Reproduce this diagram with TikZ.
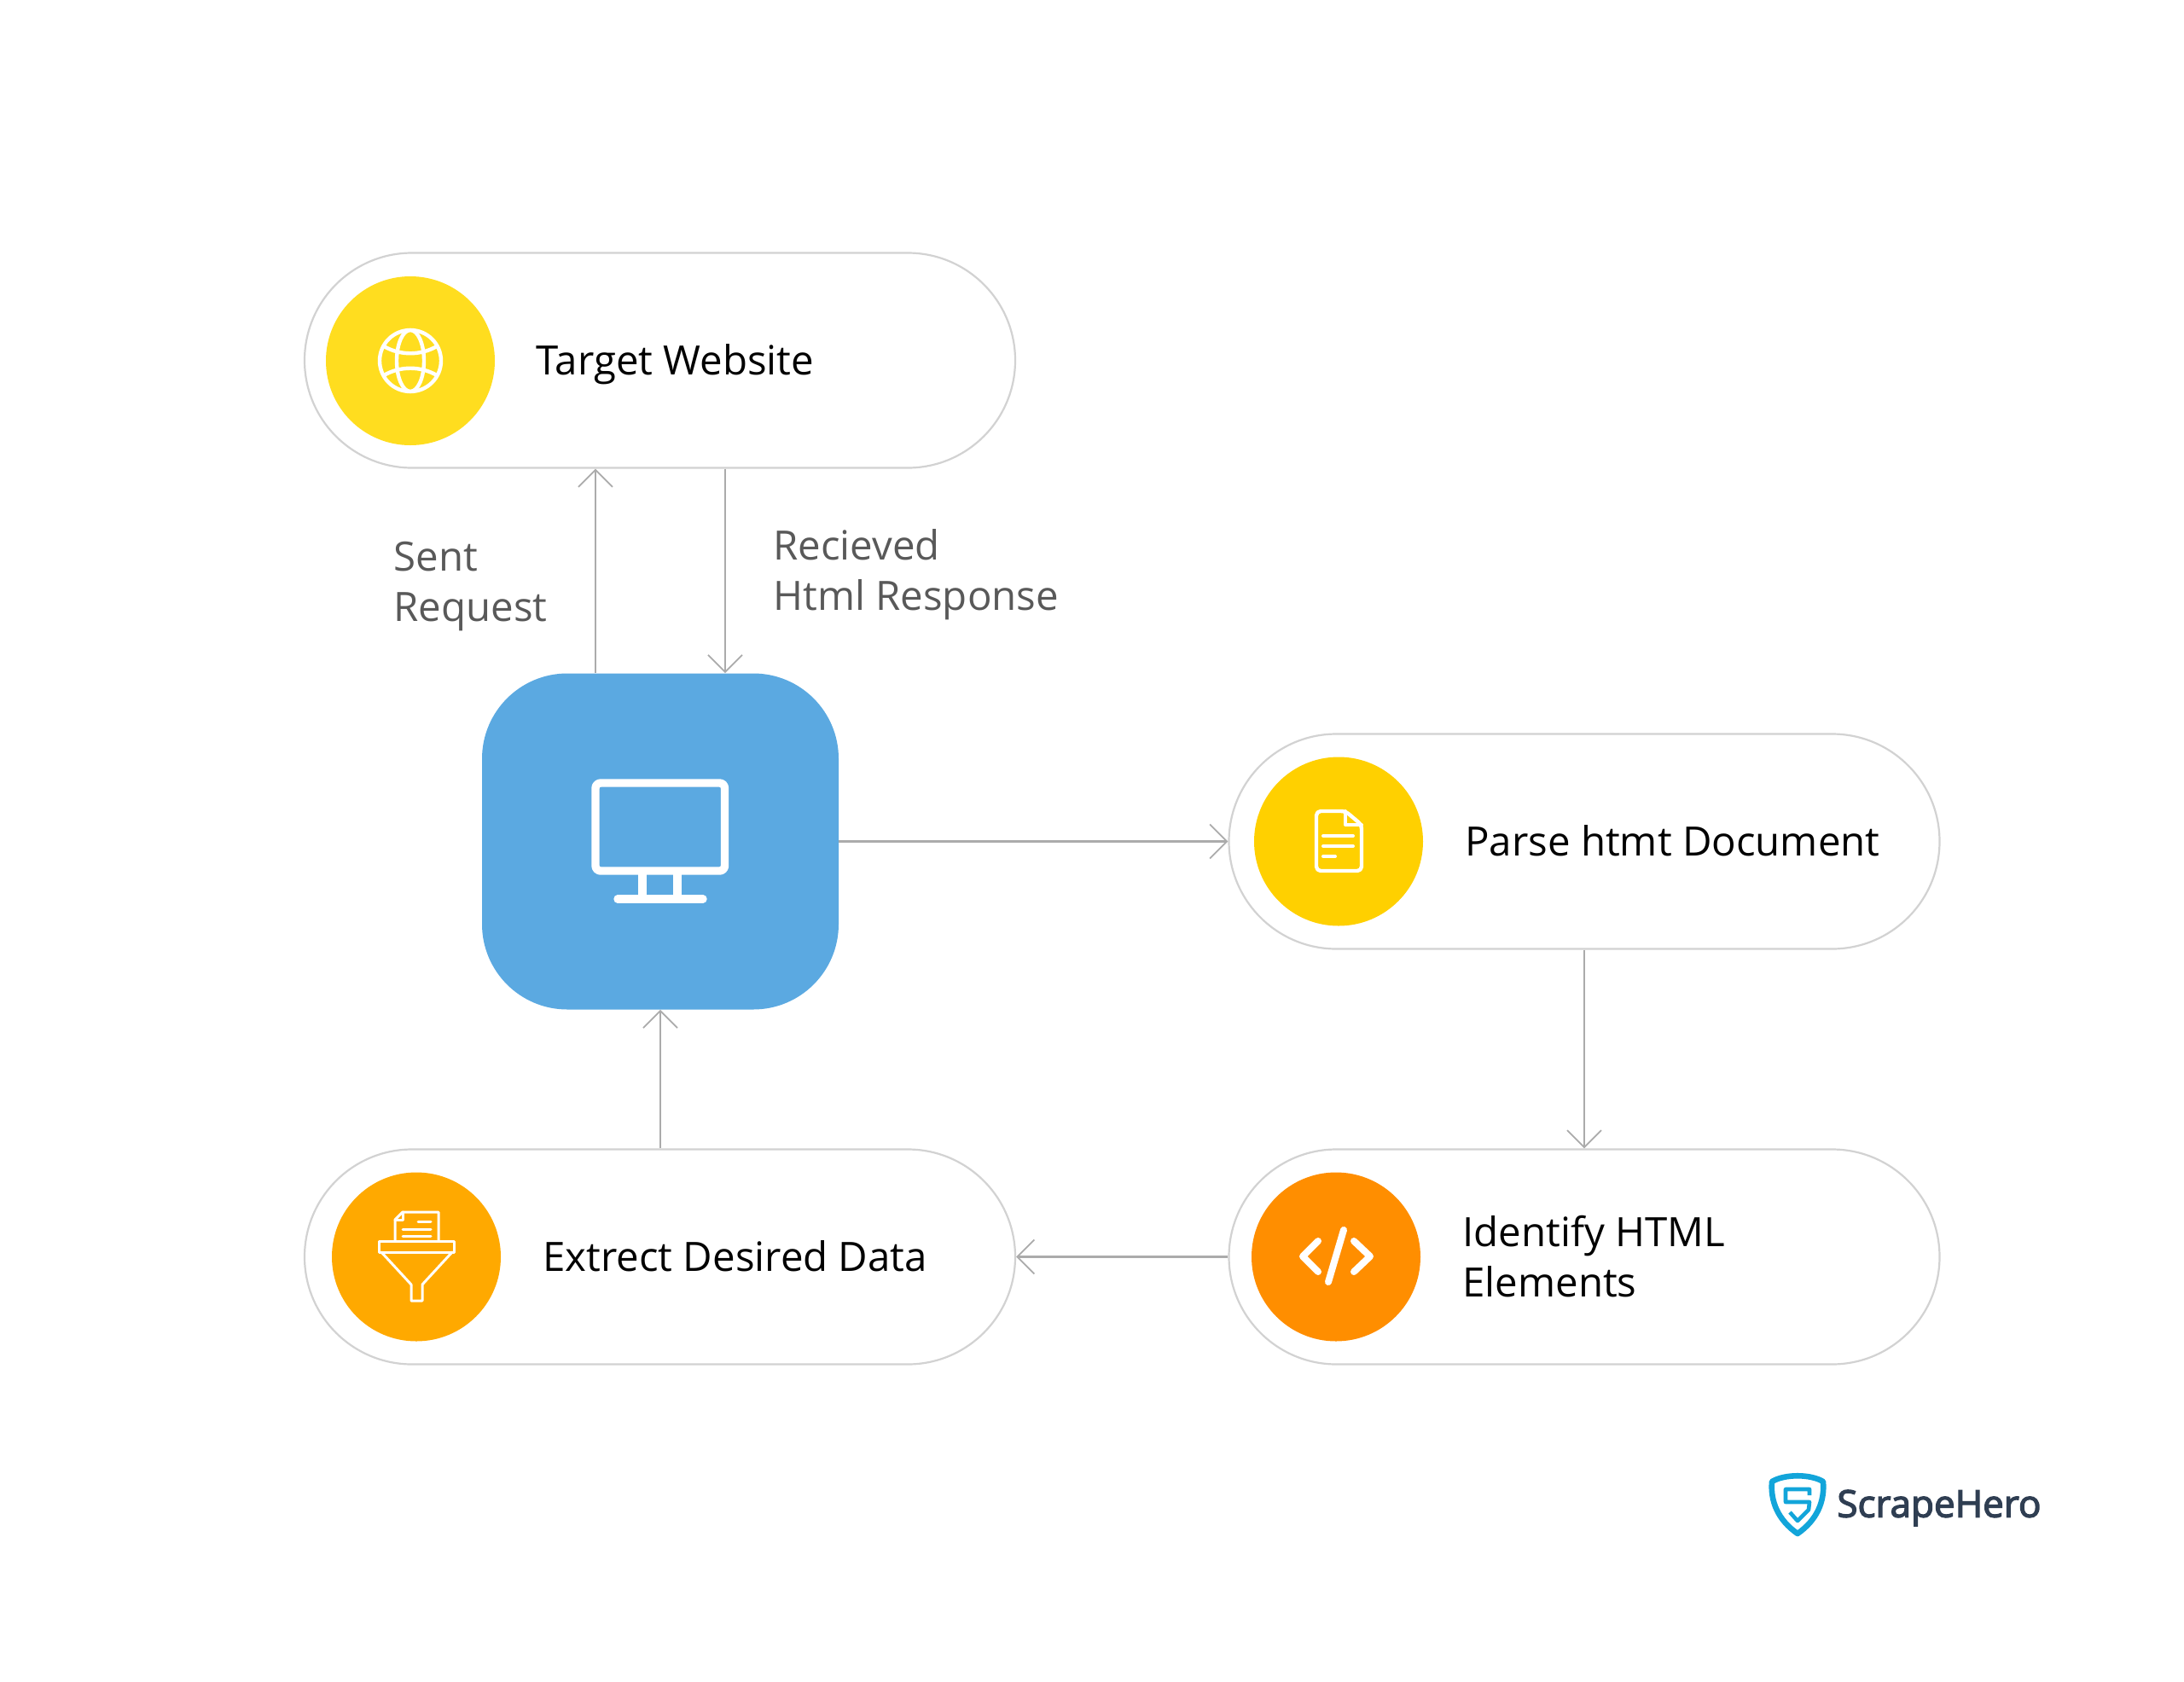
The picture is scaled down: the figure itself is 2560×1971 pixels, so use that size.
\documentclass[tikz,border=0pt]{standalone}
\usepackage{fontspec}
\setmainfont{Open Sans}
\newfontfamily\logofont[FakeBold=3]{Open Sans}
\usetikzlibrary{arrows.meta,calc}
\definecolor{pillline}{HTML}{D2D2D2}
\definecolor{conn}{HTML}{ABABAB}
\definecolor{lab}{HTML}{595959}
\definecolor{blueb}{HTML}{5BA9E1}
\definecolor{yglobe}{HTML}{FFDD1F}
\definecolor{ydoc}{HTML}{FFD000}
\definecolor{ofun}{HTML}{FFA900}
\definecolor{ocode}{HTML}{FF8E00}
\definecolor{shield}{HTML}{12A5DA}
\definecolor{logotxt}{HTML}{2F3E52}
\tikzset{
  pill/.style={draw=pillline,line width=1.1pt,fill=white,rectangle,rounded corners=63pt,minimum width=416.5pt,minimum height=126pt,inner sep=0pt},
  badge/.style={circle,minimum size=99pt,inner sep=0pt},
  mainlabel/.style={font=\fontsize{23.7}{29.5}\selectfont,text=black,align=left,anchor=west,inner sep=0pt},
  sidelabel/.style={font=\fontsize{23.7}{29.5}\selectfont,text=lab,align=left,anchor=west,inner sep=0pt},
  conn/.style={draw=conn,line width=1.1pt,-{Straight Barb[length=10pt,width=20pt,line width=0.9pt]}},
  icon/.style={draw=white,line width=2.2pt,line cap=round,line join=round},
  thinicon/.style={draw=white,line width=1.5pt,line cap=round,line join=round},
}
\begin{document}
\begin{tikzpicture}[x=0.5pt,y=-0.5pt]
\useasboundingbox (0,0) rectangle (2560,1971);
\fill[white] (0,0) rectangle (2560,1971);
% pills
\node[pill] (target) at (773.5,422.5) {};
\node[pill] (parse) at (1857,986.5) {};
\node[pill] (identify) at (1857,1473.5) {};
\node[pill] (extract) at (773.5,1473.5) {};
% computer
\node[rectangle,fill=blueb,rounded corners=50pt,minimum width=209pt,minimum height=197pt,inner sep=0pt] (comp) at (774,986.5) {};
% connector x positions
\coordinate (sentx) at (698,0);
\coordinate (recvx) at (850,0);
\draw[conn] (comp.north -| sentx) -- (target.south -| sentx);
\draw[conn] (target.south -| recvx) -- (comp.north -| recvx);
\draw[conn] (comp.east) -- (parse.west);
\draw[conn] (parse.south) -- (identify.north);
\draw[conn] (identify.west) -- (extract.east);
\draw[conn] (extract.north -| comp.south) -- (comp.south);
% badges
\node[badge,fill=yglobe] (bglobe) at (481,423) {};
\node[badge,fill=ydoc] (bdoc) at (1569,986.5) {};
\node[badge,fill=ofun] (bfun) at (488,1473.5) {};
\node[badge,fill=ocode] (bcode) at (1566,1473.5) {};
% labels
\node[mainlabel] (ltarget) at (628,427) {Target Website};
\node[mainlabel] (lparse) at (1717,986) {Parse htmt Document};
\node[mainlabel] (lident) at (1714,1473) {Identify HTML\\Elements};
\node[mainlabel] (lextract) at (636,1473) {Extrect Desired Data};
\node[sidelabel] (lsent) at (461,688) {Sent\\Request};
\node[sidelabel] (lrecv) at (906,674) {Recieved\\Html Response};
% globe icon
\begin{scope}[shift={(481,423)}]
  \draw[icon] (0,0) circle (36);
  \draw[icon] (0,0) ellipse (16 and 36);
  \draw[icon] (-31,-17) .. controls (-12,-6) and (12,-6) .. (31,-17);
  \draw[icon] (-31,17) .. controls (-12,6) and (12,6) .. (31,17);
\end{scope}
% monitor icon
\begin{scope}[shift={(640,860)}]
  \draw[icon,line width=4.7pt,rounded corners=3pt] (58,58) rectangle (209.5,161);
  \draw[icon,line width=4.7pt,line cap=butt] (113,161) -- (113,194);
  \draw[icon,line width=4.7pt,line cap=butt] (154,161) -- (154,194);
  \draw[icon,line width=4.7pt] (84,194) -- (184,194);
\end{scope}
% document icon
\begin{scope}[shift={(1440,880)}]
  \draw[icon,rounded corners=2.5pt] (103,71) -- (103,141) -- (156,141) -- (156,87) -- (137,71) -- cycle;
  \draw[icon,line width=2pt] (137,71) -- (137,87) -- (156,87);
  \draw[icon,line width=2pt] (111,100) -- (146,100);
  \draw[icon,line width=2pt] (111,112) -- (146,112);
  \draw[icon,line width=2pt] (111,124) -- (125,124);
\end{scope}
% funnel icon
\begin{scope}[shift={(400,1370)}]
  \draw[thinicon] (63,85) -- (63,60) -- (72,51) -- (114,51) -- (114,85);
  \draw[thinicon] (63,60) -- (72,60) -- (72,51);
  \draw[thinicon] (90,62) -- (105,62);
  \draw[thinicon] (72,71) -- (105,71);
  \draw[thinicon] (72,79) -- (105,79);
  \draw[thinicon] (44,85) rectangle (132,98);
  \draw[thinicon] (47,98) -- (82,136) -- (82,155) -- (95,155) -- (95,136) -- (130,98);
\end{scope}
% code icon
\begin{scope}[shift={(1460,1370)}]
  \draw[icon,line width=4pt] (85,85) -- (67,103) -- (85,121);
  \draw[icon,line width=4pt] (127,85) -- (146,103) -- (127,121);
  \draw[icon,line width=4pt] (115,72) -- (97,133);
\end{scope}
% logo
\node[font=\logofont\fontsize{22}{26}\selectfont,text=logotxt,anchor=west,inner sep=0pt] (logo) at (2153,1768) {ScrapeHero};
\begin{scope}[shift={(2060,1720)}]
  \draw[shield,line width=3.3pt,line join=round] (17,17) .. controls (32,8) and (62,8) .. (77,17) .. controls (79,40) and (70,62) .. (47,78) .. controls (24,62) and (15,40) .. (17,17) -- cycle;
  \draw[shield,line width=2.3pt,line join=round] (61,33) -- (61,26) -- (33,26) -- (33,41) -- (61,41) -- (60,50) -- (47,63) -- (38,53);
\end{scope}
\end{tikzpicture}
\end{document}
